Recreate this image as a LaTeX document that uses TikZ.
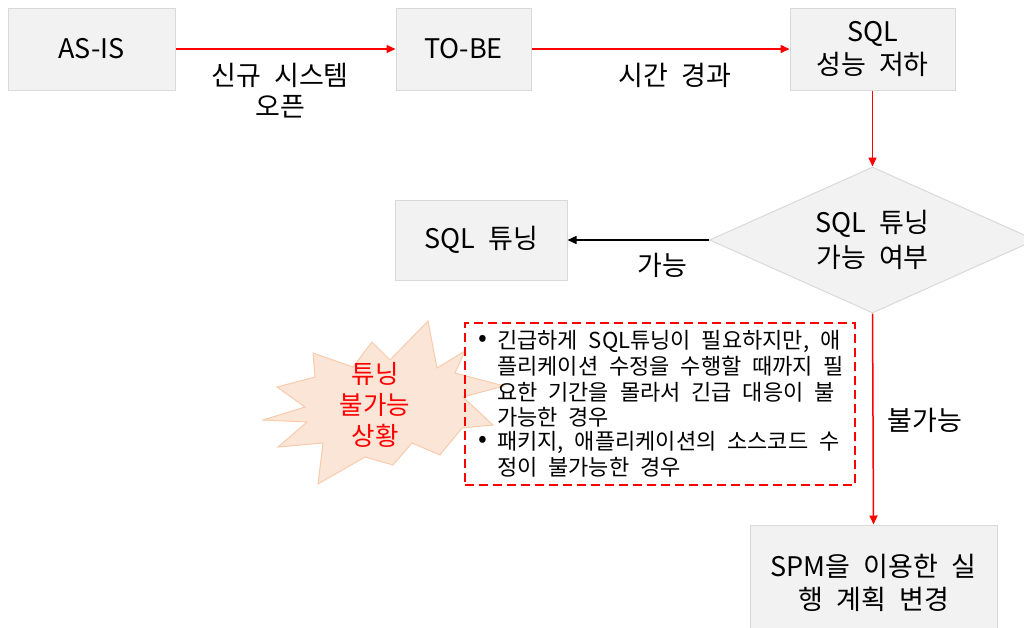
\documentclass[tikz,border=0pt]{standalone}
\usepackage{fontspec}
\setmainfont[WordSpace=2.2]{Noto Sans CJK KR}
\usetikzlibrary{shapes.geometric,arrows.meta}
\definecolor{boxfill}{HTML}{F2F2F2}
\definecolor{boxline}{HTML}{D9D9D9}
\definecolor{burstfill}{HTML}{FBE5D6}
\definecolor{burstline}{HTML}{F8CBAD}
\definecolor{myred}{HTML}{FF0000}
\begin{document}
\begin{tikzpicture}[x=1pt,y=-1pt,
  procbox/.style={draw=boxline, fill=boxfill, line width=1pt, align=center, font=\fontsize{27}{33}\selectfont, inner sep=0},
  redarrow/.style={draw=myred, line width=1.5pt, -{Triangle[length=9pt,width=8pt]}},
  blackarrow/.style={draw=black, line width=1.5pt, -{Triangle[length=9pt,width=8pt]}},
  lbl/.style={align=center, font=\fontsize{27}{31}\selectfont, inner sep=0},
  notetxt/.style={anchor=west, font=\fontsize{22}{25}\selectfont, inner sep=0},
  bullet/.style={font=\fontsize{26}{26}\selectfont, inner sep=0}]
\useasboundingbox (0,0) rectangle (1024,627);
\clip (0,0) rectangle (1024,627);
% boxes
\node[procbox, minimum width=167pt, minimum height=82pt] (asis) at (91.5,49) {AS-IS};
\node[procbox, minimum width=135pt, minimum height=82pt] (tobe) at (463.5,49) {TO-BE};
\node[procbox, minimum width=165pt, minimum height=82pt] (perf) at (872.5,49) {SQL\\성능 저하};
\node[diamond, aspect=2.23, draw=boxline, fill=boxfill, line width=1pt, inner sep=0,
      minimum width=326pt, minimum height=146pt, align=center,
      font=\fontsize{27}{35}\selectfont] (dec) at (872.5,240) {SQL 튜닝\\가능 여부};
\node[procbox, minimum width=172pt, minimum height=80pt] (tune) at (481,240) {SQL 튜닝};
\node[procbox, minimum width=247pt, minimum height=115pt] (spm) at (873.5,582.5) {SPM을 이용한 실\\행 계획 변경};
% connectors
\draw[redarrow] (asis) -- (tobe);
\draw[redarrow] (tobe) -- (perf);
\draw[redarrow] (perf.south) -- (dec.north);
\draw[blackarrow] (dec.west) -- (tune.east);
\draw[redarrow] (dec.south) -- (spm.north);
% labels
\node[lbl] (l1) at (280,90.5) {신규 시스템\\오픈};
\node[lbl] (l2) at (675,75) {시간 경과};
\node[lbl] (l3) at (662,265) {가능};
\node[lbl] (l4) at (925,420) {불가능};
% starburst
\filldraw[fill=burstfill, draw=burstline, line width=1pt]
  (428,321) -- (437,368) -- (465,351) -- (455,373) -- (504,386) -- (463,397) --
  (493,425) -- (462,428) -- (440,455) -- (412,443) -- (393,465) -- (365,457) --
  (318,484) -- (323,443) -- (278,447) -- (307,422) -- (263,420) -- (305,407) --
  (277,387) -- (315,377) -- (313,353) -- (353,367) -- (372,342) -- (390,360) -- cycle;
\node[align=center, text=myred, font=\fontsize{25.5}{31}\selectfont, inner sep=0] (burst) at (375,405) {튜닝\\불가능\\상황};
% dashed note
\node[draw=myred, line width=2.5pt, dash pattern=on 9pt off 5pt, minimum width=390pt, minimum height=162pt, inner sep=0] (note) at (660,404) {};
\node[bullet] (b1) at (483,341) {•};
\node[bullet] (b2) at (483,442) {•};
\node[notetxt] (n1) at (497,341) {긴급하게 SQL튜닝이 필요하지만, 애};
\node[notetxt] (n2) at (497,366) {플리케이션 수정을 수행할 때까지 필};
\node[notetxt] (n3) at (497,392) {요한 기간을 몰라서 긴급 대응이 불};
\node[notetxt] (n4) at (497,417) {가능한 경우};
\node[notetxt] (n5) at (497,442) {패키지, 애플리케이션의 소스코드 수};
\node[notetxt] (n6) at (497,467) {정이 불가능한 경우};
\end{tikzpicture}
\end{document}
